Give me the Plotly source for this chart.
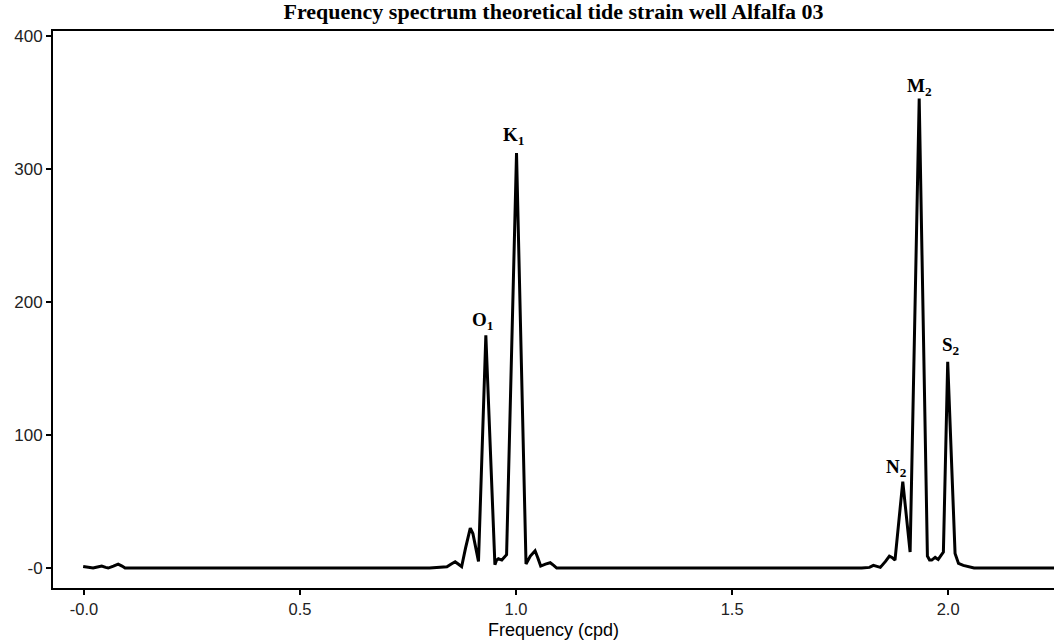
import plotly.graph_objects as go

# Spectrum (frequency in cpd, amplitude)
freq = [-0.002, 0.010, 0.021, 0.031, 0.041, 0.050, 0.056, 0.068, 0.079, 0.088, 0.095,
        0.800, 0.824, 0.840, 0.850, 0.859, 0.866, 0.874, 0.883, 0.894, 0.900, 0.906, 0.913,
        0.930, 0.951, 0.955, 0.959, 0.967, 0.978, 1.001, 1.023, 1.033, 1.044, 1.050, 1.057,
        1.068, 1.079, 1.087, 1.094,
        1.800, 1.818, 1.827, 1.835, 1.843, 1.855, 1.864, 1.870, 1.877, 1.895, 1.912,
        1.933, 1.952, 1.957, 1.962, 1.970, 1.977, 1.989, 1.999, 2.016, 2.024, 2.035,
        2.046, 2.060, 2.250]
amp = [1.2, 0.5, 0.0, 0.8, 1.5, 0.5, 0.0, 1.5, 3.0, 1.5, 0.0,
       0.0, 0.5, 1.0, 3.0, 4.7, 3.0, 1.0, 15.0, 30.0, 26.0, 15.0, 5.0,
       175.0, 2.5, 6.0, 7.0, 6.0, 10.0, 312.0, 3.0, 9.0, 13.0, 8.0, 1.5,
       3.0, 4.0, 2.0, 0.0,
       0.0, 0.5, 2.0, 1.5, 0.5, 5.0, 9.0, 8.0, 6.0, 65.0, 12.0,
       353.0, 9.0, 6.0, 6.0, 8.0, 6.5, 12.0, 155.0, 11.0, 3.5, 2.0,
       1.0, 0.0, 0.0]

# Tidal constituent labels
peak_names = ["O", "K", "N", "M", "S"]
peak_subs = ["1", "1", "2", "2", "2"]
peak_freq = [0.930, 1.001, 1.895, 1.933, 1.999]
peak_amp = [175, 312, 65, 353, 155]

x_tickvals = [0.0, 0.5, 1.0, 1.5, 2.0]
x_ticktext = ["-0.0", "0.5", "1.0", "1.5", "2.0"]
y_tickvals = [0, 100, 200, 300, 400]
y_ticktext = ["-0", "100", "200", "300", "400"]

fig = go.Figure()
fig.add_trace(go.Scatter(x=freq, y=amp, mode="lines",
                         line=dict(color="black", width=3),
                         showlegend=False, hoverinfo="skip"))

label_xshift = [-3, -3, -6, 0, 3]
label_yshift = [0, 3, 0, -2, 2]
for n, s, fx, fy, dx, dy in zip(peak_names, peak_subs, peak_freq, peak_amp,
                                label_xshift, label_yshift):
    fig.add_annotation(x=fx, y=fy, text=f"<b>{n}<sub>{s}</sub></b>",
                       showarrow=False, xanchor="center", yanchor="bottom",
                       xshift=dx, yshift=dy,
                       font=dict(family="Liberation Serif", size=19, color="black"))

# x-axis title
fig.add_annotation(x=0.5, y=-0.053, xref="paper", yref="paper",
                   text="Frequency (cpd)", showarrow=False,
                   xanchor="center", yanchor="top",
                   font=dict(family="Liberation Sans", size=18, color="black"))

fig.update_layout(
    width=1054, height=642,
    margin=dict(l=53, r=0, t=31, b=54),
    paper_bgcolor="white", plot_bgcolor="white",
    title=dict(text="<b>Frequency spectrum theoretical tide strain well Alfalfa 03</b>",
               x=0.5, xref="paper", xanchor="center",
               y=0.983, yref="container", yanchor="middle",
               font=dict(family="Liberation Serif", size=22, color="black")),
    xaxis=dict(range=[-0.0718, 2.245], tickvals=x_tickvals, ticktext=x_ticktext,
               showgrid=False, zeroline=False, showline=True, linecolor="black",
               linewidth=2, mirror=True, ticks="outside", ticklen=5, tickwidth=1.5,
               tickcolor="black",
               tickfont=dict(family="Liberation Sans", size=16.5, color="#222222")),
    yaxis=dict(range=[-15.0, 403.8], tickvals=y_tickvals, ticktext=y_ticktext,
               showgrid=False, zeroline=False, showline=True, linecolor="black",
               linewidth=2, ticks="outside", ticklen=5, tickwidth=1.5,
               tickcolor="black",
               tickfont=dict(family="Liberation Sans", size=17, color="#222222")),
)

fig.write_html("out.html")
